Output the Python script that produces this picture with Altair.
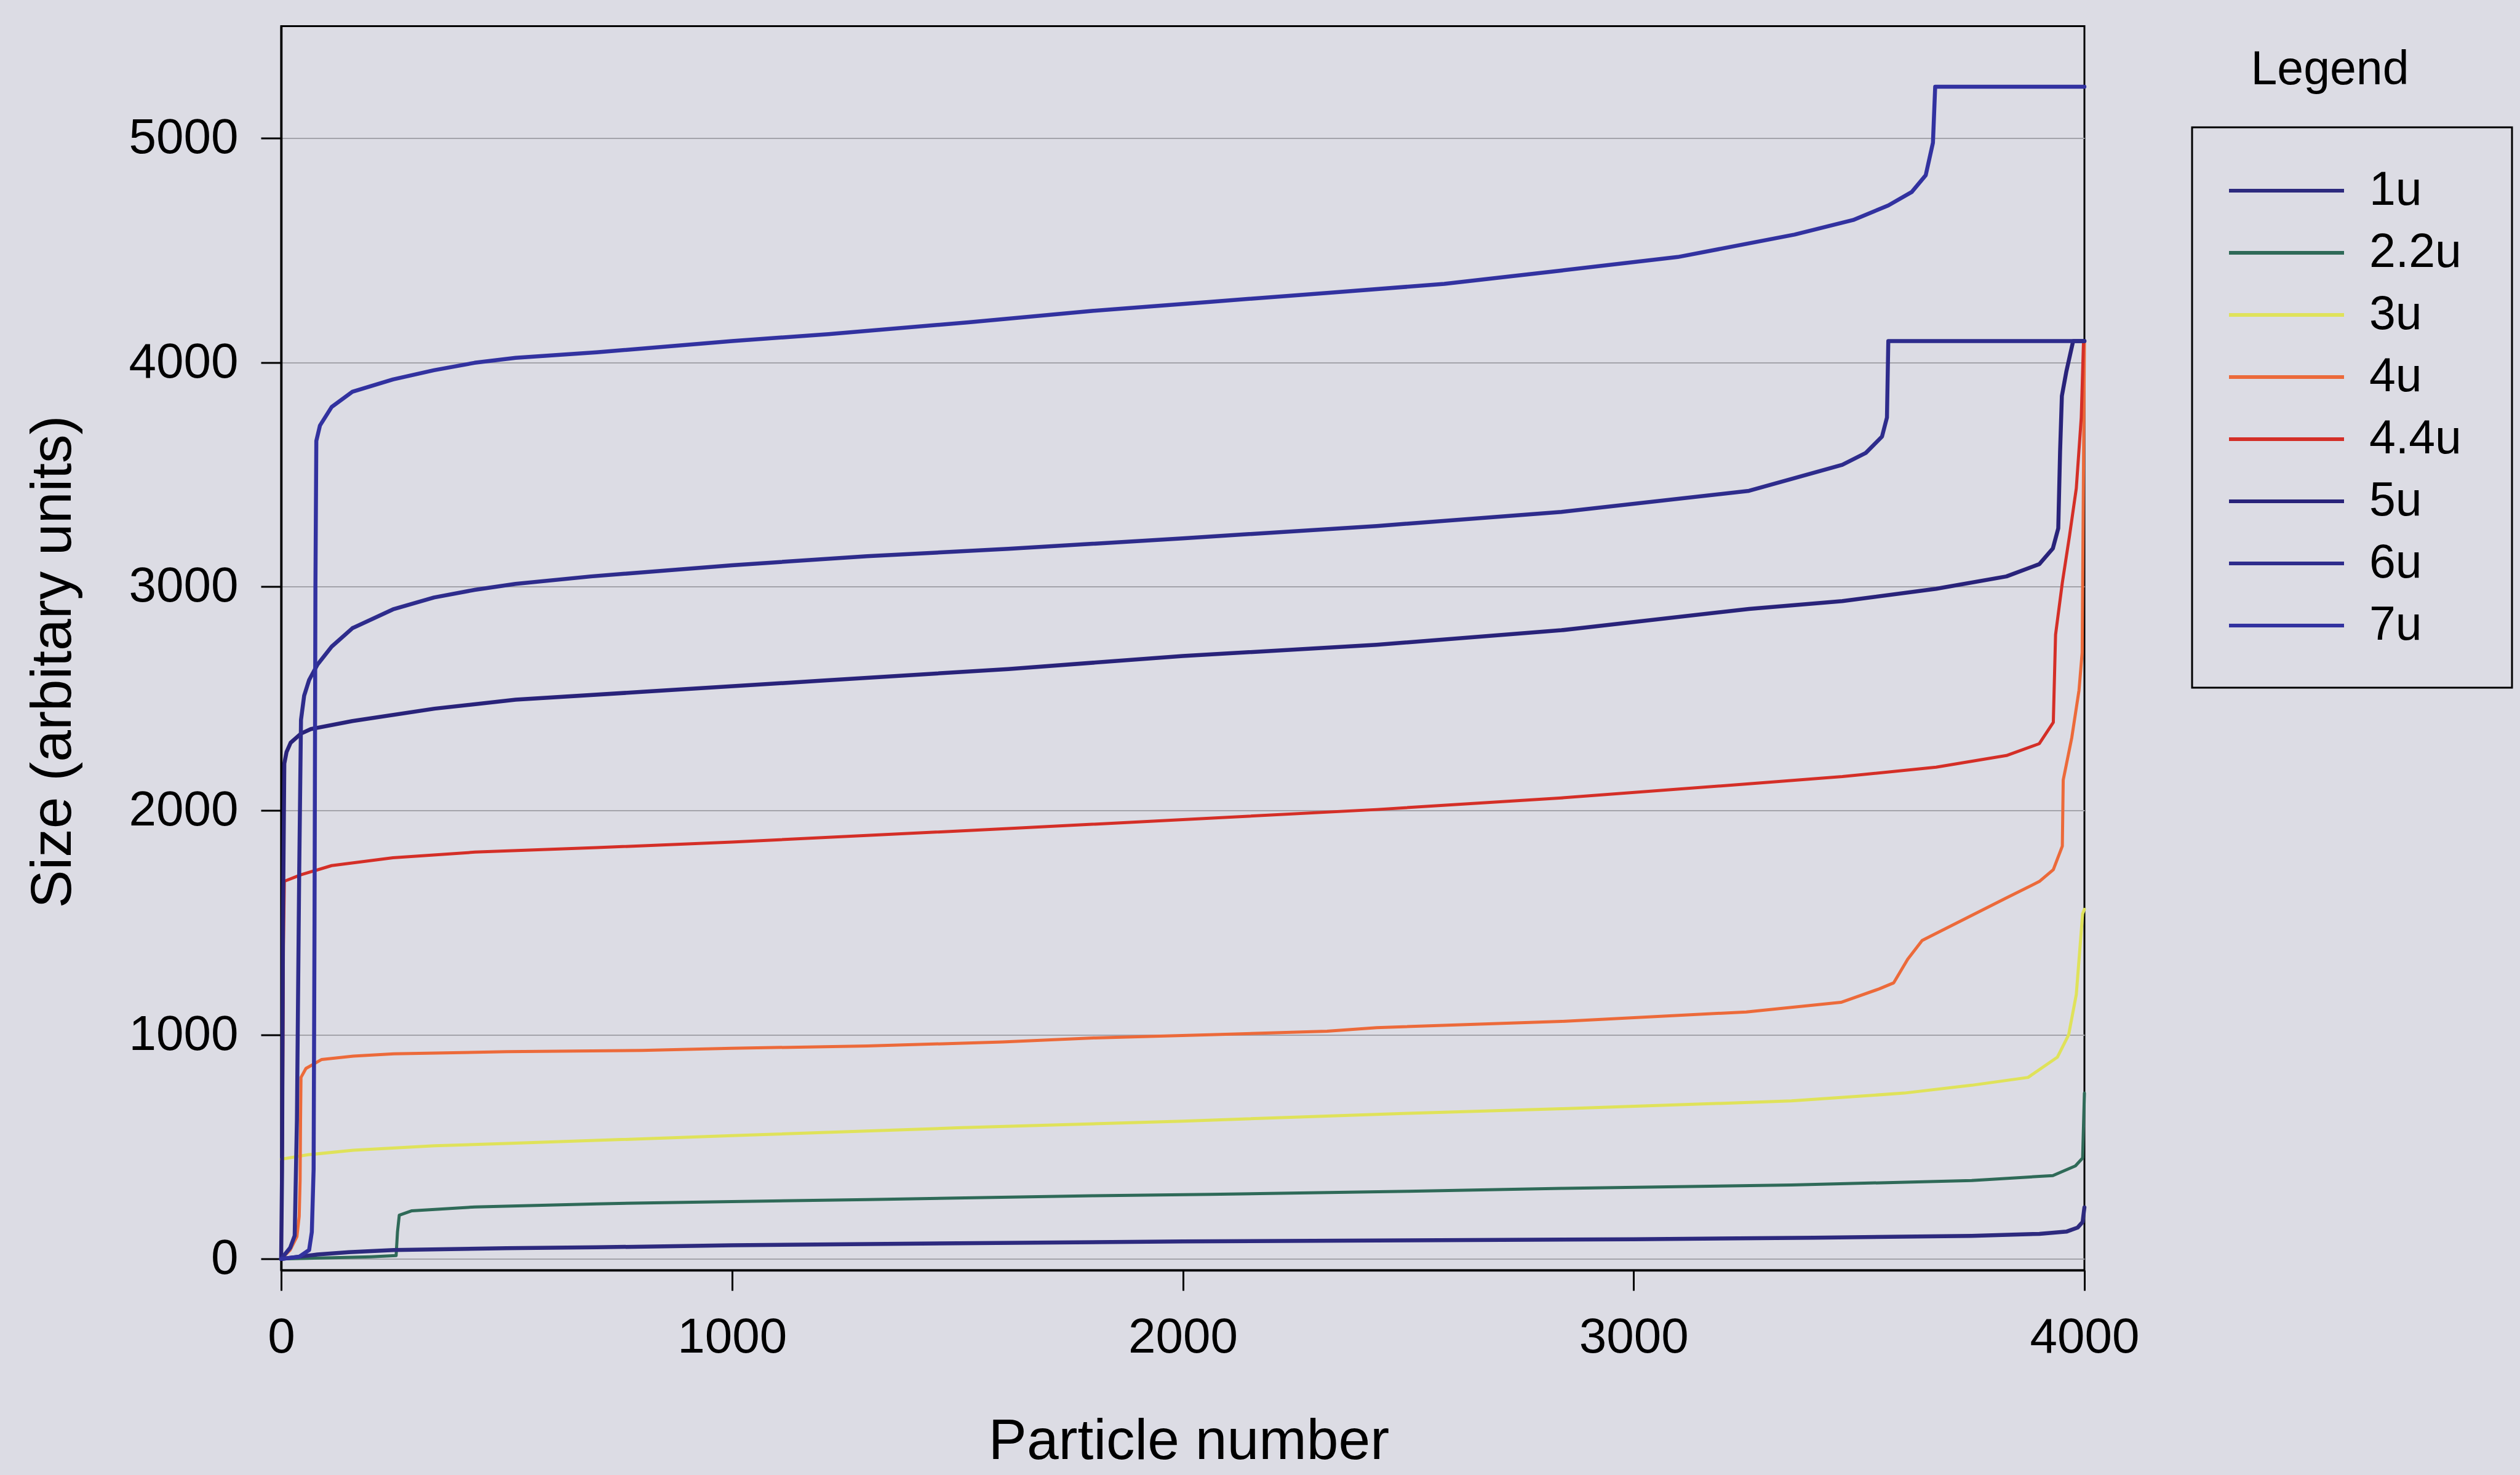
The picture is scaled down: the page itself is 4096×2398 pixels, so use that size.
import altair as alt
import pandas as pd

FONT = "Liberation Sans"

# Series names and line colours
series_names = ["1u", "2.2u", "3u", "4u", "4.4u", "5u", "6u", "7u"]
series_colors = ["#2d2a7e", "#2f6a58", "#dfe25a", "#ec6a3a", "#d42f27",
                 "#29237a", "#2e2c8c", "#3232a0"]
navy_series = ["1u", "5u", "6u", "7u"]
warm_series = ["2.2u", "3u", "4u", "4.4u"]

# Sorted particle sizes (particle number -> size) for each bead diameter
x_1u = [0, 30, 80, 150, 250, 500, 700, 1000, 1500, 2000, 2500, 3000, 3400, 3750,
        3900, 3960, 3985, 3996, 4000]
y_1u = [0, 8, 20, 30, 40, 48, 52, 61, 70, 78, 83, 88, 95, 103,
        112, 122, 140, 165, 230]

x_2_2u = [0, 100, 200, 255, 258, 262, 290, 430, 700, 1000, 1300, 1800, 2060, 2500,
          2840, 3350, 3750, 3930, 3980, 3996, 4000]
y_2_2u = [0, 5, 10, 15, 120, 195, 215, 232, 246, 256, 265, 282, 288, 302,
          315, 330, 350, 372, 415, 450, 740]

x_3u = [0, 60, 160, 340, 500, 1000, 1500, 2000, 2500, 2840, 3350, 3600, 3750, 3875,
        3940, 3965, 3982, 3996, 4000]
y_3u = [445, 465, 485, 505, 515, 550, 585, 615, 650, 670, 705, 740, 775, 810,
        900, 1000, 1180, 1540, 1560]

x_4u = [0, 20, 35, 40, 42, 43, 44, 55, 90, 160, 250, 500, 800, 1000, 1300, 1600,
        1800, 2060, 2320, 2430, 2840, 3250, 3460, 3545, 3577, 3608, 3640, 3723,
        3827, 3900, 3931, 3951, 3953, 3972, 3988, 3995, 4000]
y_4u = [0, 40, 100, 190, 350, 620, 810, 850, 890, 905, 915, 925, 930, 940, 950, 968,
        986, 1000, 1016, 1032, 1060, 1102, 1145, 1205, 1232, 1337, 1421, 1505,
        1611, 1684, 1737, 1842, 2137, 2326, 2537, 2705, 4095]

x_4_4u = [0, 3, 5, 7, 44, 112, 248, 430, 700, 1000, 1613, 2000, 2430, 2840, 3256,
          3463, 3671, 3827, 3900, 3931, 3936, 3951, 3967, 3982, 3993, 3998]
y_4_4u = [0, 600, 1400, 1685, 1714, 1755, 1790, 1815, 1835, 1860, 1920, 1960, 2005,
          2057, 2120, 2152, 2194, 2246, 2299, 2394, 2785, 3017, 3227, 3438, 3754, 4095]

x_5u = [0, 2, 4, 7, 12, 21, 44, 66, 158, 340, 520, 800, 1200, 1613, 2000, 2430,
        2840, 3256, 3463, 3671, 3827, 3900, 3930, 3942, 3946, 3950, 3960, 3975, 4000]
y_5u = [0, 400, 1500, 2210, 2262, 2303, 2344, 2364, 2400, 2455, 2495, 2530, 2580,
        2632, 2690, 2740, 2805, 2900, 2935, 2990, 3045, 3100, 3170, 3260, 3600,
        3850, 3960, 4095, 4095]

x_6u = [0, 20, 30, 35, 40, 44, 51, 62, 80, 112, 158, 248, 339, 429, 520, 687, 1000,
        1300, 1613, 2000, 2430, 2840, 3256, 3463, 3515, 3551, 3562, 3565, 4000]
y_6u = [0, 50, 104, 624, 1720, 2405, 2513, 2583, 2650, 2732, 2814, 2898, 2951, 2985,
        3012, 3045, 3095, 3135, 3168, 3215, 3270, 3333, 3427, 3543, 3596, 3669,
        3754, 4095, 4095]

x_7u = [0, 40, 62, 68, 72, 74, 76, 78, 86, 112, 158, 248, 339, 429, 520, 700, 1000,
        1214, 1525, 1802, 2061, 2320, 2580, 2841, 3098, 3357, 3487, 3565, 3617,
        3648, 3664, 3669, 4000]
y_7u = [0, 10, 40, 120, 400, 1500, 3000, 3650, 3718, 3801, 3869, 3924, 3965, 3998,
        4020, 4045, 4095, 4126, 4179, 4230, 4270, 4310, 4350, 4410, 4470, 4570,
        4635, 4700, 4760, 4835, 4980, 5230, 5230]

series_xy = {
    "1u": (x_1u, y_1u),
    "2.2u": (x_2_2u, y_2_2u),
    "3u": (x_3u, y_3u),
    "4u": (x_4u, y_4u),
    "4.4u": (x_4_4u, y_4_4u),
    "5u": (x_5u, y_5u),
    "6u": (x_6u, y_6u),
    "7u": (x_7u, y_7u),
}

rows = []
for name in series_names:
    xs, ys = series_xy[name]
    for xv, yv in zip(xs, ys):
        rows.append({"series": name, "particle": xv, "size": yv})
df = pd.DataFrame(rows)

color_scale = alt.Scale(domain=series_names, range=series_colors)

x_enc = alt.X("particle:Q",
              scale=alt.Scale(domain=[0, 4000], nice=False, zero=False),
              axis=alt.Axis(values=[0, 1000, 2000, 3000, 4000], format="d",
                            grid=False, labelFlush=False, title="Particle number",
                            titleX=1475, titleY=278, titleBaseline="middle",
                            titleAlign="center"))
y_enc = alt.Y("size:Q",
              scale=alt.Scale(domain=[-50, 5500], nice=False, zero=False),
              axis=alt.Axis(values=[0, 1000, 2000, 3000, 4000, 5000], format="d",
                            grid=True, labelFlush=False, title="Size (arbitary units)",
                            titleAngle=270, titleX=-371, titleY=1033,
                            titleBaseline="middle", titleAlign="center"))
c_enc = alt.Color("series:N", scale=color_scale, legend=None)

base = alt.Chart(df).encode(x=x_enc, y=y_enc, color=c_enc)

warm_lines = base.transform_filter(
    alt.FieldOneOfPredicate(field="series", oneOf=warm_series)
).mark_line(strokeWidth=5, strokeJoin="round", strokeCap="round")

navy_lines = base.transform_filter(
    alt.FieldOneOfPredicate(field="series", oneOf=navy_series)
).mark_line(strokeWidth=6.5, strokeJoin="round", strokeCap="round")

# Both line layers share one y scale and axis
lines = alt.layer(warm_lines, navy_lines)

# Hand-built legend: framed box to the right of the plot, title above it
legend_df = pd.DataFrame({"series": series_names})
one_row = pd.DataFrame({"k": [0]})

leg_y = alt.Y("series:N",
              scale=alt.Scale(type="point", domain=series_names,
                              range=[267.5, 974.5], padding=0),
              axis=None)

legend_box = alt.Chart(one_row).mark_rect(
    fillOpacity=0, stroke="black", strokeWidth=3
).encode(
    x=alt.value(3106), x2=alt.value(3626), y=alt.value(164.5), y2=alt.value(1075.5)
)

legend_title = alt.Chart(one_row).mark_text(
    text="Legend", font=FONT, fontSize=77, color="black",
    align="center", baseline="middle"
).encode(x=alt.value(3330), y=alt.value(71.5))

legend_rules = alt.Chart(legend_df).mark_rule(strokeWidth=6).encode(
    x=alt.value(3166), x2=alt.value(3353), y=leg_y,
    color=alt.Color("series:N", scale=color_scale, legend=None),
)

legend_labels = alt.Chart(legend_df).mark_text(
    font=FONT, fontSize=77, color="black", align="left", baseline="middle"
).encode(x=alt.value(3394), y=leg_y, text="series:N")

chart = alt.layer(
    lines, legend_box, legend_title, legend_rules, legend_labels
).resolve_scale(
    y="independent"
).properties(
    width=2931,
    height=2022.5,
    autosize=alt.AutoSizeParams(type="none"),
    padding={"left": 457, "top": 42.5, "right": 708, "bottom": 332.5},
    background="#dcdce4",
).configure_view(
    stroke="black", strokeWidth=3, fill="#dcdce4"
).configure_axis(
    domainColor="black", domainWidth=3.5,
    tickColor="black", tickWidth=3, tickSize=33,
    labelFont=FONT, labelFontSize=80, labelColor="black", labelPadding=37,
    titleFont=FONT, titleFontSize=93, titleColor="black", titleFontWeight="normal",
    gridColor="#a3a3aa", gridWidth=2,
)

chart.save("out.html", embed_options={"renderer": "svg", "actions": False})
